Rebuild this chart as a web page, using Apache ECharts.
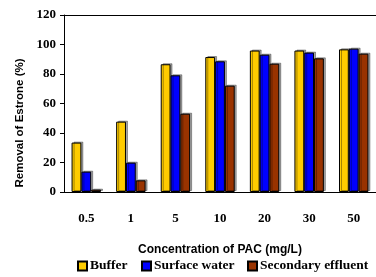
<!DOCTYPE html>
<html>
<head>
<meta charset="utf-8">
<script src="https://cdn.jsdelivr.net/npm/echarts@6/dist/echarts.min.js"></script>
<style>
	html, body { margin: 0; padding: 0; background: #fff; overflow: hidden; }
	#chart { width: 376px; height: 277px; }
</style>
</head>
<body>
<div id="chart"></div>
<script>
// PAC dose (mg/L)
var categories = ['0.5', '1', '5', '10', '20', '30', '50'];
var seriesNames = ['Buffer', 'Surface water', 'Secondary effluent'];
var buffer = [33.5, 47.7, 86.6, 91.5, 95.9, 95.9, 96.7];
var surfaceWater = [13.8, 19.9, 79.1, 88.6, 93.1, 94.5, 97.2];
var secondaryEffluent = [1.6, 7.9, 53.1, 72.1, 87, 90.6, 93.8];

var serif = '"Liberation Serif", "Times New Roman", serif';
var sans = '"Liberation Sans", Arial, sans-serif';

var barSeries = function(name, data, color) {
	return {
		name: name,
		type: 'bar',
		xAxisIndex: 0,
		data: data,
		barGap: '0%',
		barCategoryGap: '34%',
		itemStyle: {
			color: color,
			borderColor: '#000',
			borderWidth: 1,
			shadowColor: 'rgba(0,0,0,0.35)',
			shadowOffsetX: 2,
			shadowOffsetY: -1
		}
	};
};

// one legend box per item so they sit where the original has them
var legendAt = function(name, left) {
	return {
		top: 259,
		left: left,
		padding: 0,
		itemWidth: 9,
		itemHeight: 9,
		icon: 'rect',
		textStyle: {
			fontFamily: serif,
			fontWeight: 'bold',
			fontSize: 13.5,
			color: '#000',
			padding: [3, 0, 0, -2]
		},
		data: [name]
	};
};

var chart = echarts.init(document.getElementById('chart'));
var option = {
	animation: false,
	grid: {
		left: 64,
		top: 15,
		right: -6,
		bottom: 85
	},
	legend: [
		legendAt(seriesNames[0], 77),
		legendAt(seriesNames[1], 141),
		legendAt(seriesNames[2], 247)
	],
	graphic: [{
		type: 'text',
		x: 20,
		y: 123,
		rotation: Math.PI / 2,
		style: {
			text: 'Removal of Estrone (%)',
			font: 'bold 11.5px ' + sans,
			fill: '#000',
			align: 'center',
			verticalAlign: 'middle'
		}
	}],
	xAxis: [{
		type: 'category',
		data: categories,
		name: 'Concentration of PAC (mg/L)',
		nameLocation: 'middle',
		nameGap: 52,
		nameTextStyle: {
			fontFamily: sans,
			fontWeight: 'bold',
			fontSize: 12,
			color: '#000'
		},
		axisLine: { lineStyle: { color: '#000', width: 1 } },
		axisTick: { length: 4, lineStyle: { color: '#000' } },
		axisLabel: {
			margin: 20,
			fontFamily: serif,
			fontWeight: 'bold',
			fontSize: 13,
			color: '#000'
		}
	}, {
		// top frame line only
		type: 'category',
		position: 'top',
		data: categories,
		axisLine: { show: true, lineStyle: { color: '#000', width: 1 } },
		axisTick: { show: false },
		axisLabel: { show: false }
	}],
	yAxis: {
		type: 'value',
		min: 0,
		max: 120,
		interval: 20,
		splitLine: { show: false },
		axisLine: { show: true, lineStyle: { color: '#000', width: 1 } },
		axisTick: { show: true, length: 4, lineStyle: { color: '#000' } },
		axisLabel: {
			margin: 8,
			fontFamily: serif,
			fontWeight: 'bold',
			fontSize: 13,
			color: '#000'
		}
	},
	series: [
		barSeries(seriesNames[0], buffer, '#FFCC00'),
		barSeries(seriesNames[1], surfaceWater, '#0000FF'),
		barSeries(seriesNames[2], secondaryEffluent, '#993300')
	]
};
chart.setOption(option);
</script>
</body>
</html>
